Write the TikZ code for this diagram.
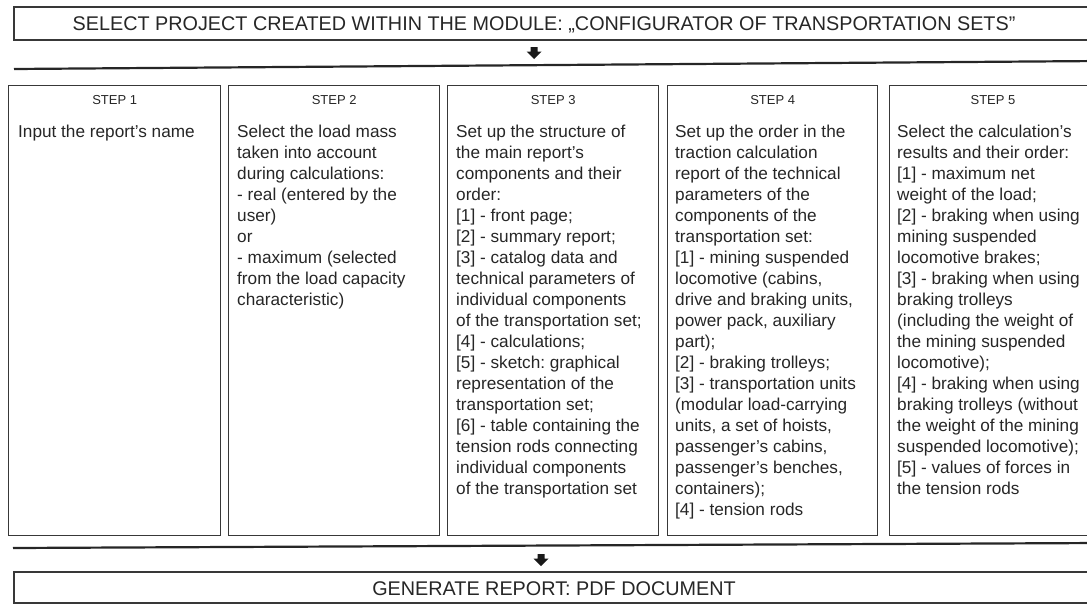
\documentclass[tikz,border=0pt]{standalone}
\usepackage{fontspec}
\setmainfont{Liberation Sans}
\frenchspacing
\begin{document}
\begin{tikzpicture}[x=1pt,y=-1pt,
  frame/.style={draw=black!78, line width=1.3pt},
  rule/.style={draw=black!85, line width=2.2pt},
  stepbox/.style={frame, anchor=north west, inner sep=0pt,
    minimum width=#1, minimum height=450pt},
  head/.style={font=\fontsize{13}{15}\selectfont, text=black!85,
    anchor=base, inner sep=0pt},
  body/.style={font=\fontsize{17.2}{21}\selectfont, text=black!85,
    align=left, anchor=north west, inner sep=0pt},
  title/.style={font=\fontsize{19.8}{22}\selectfont, text=black!85,
    text height=14.2pt, text depth=0pt, inner sep=0pt},
  downarrow/.style={fill=black!90}]
\useasboundingbox (0,0) rectangle (1087,605);
\clip (0,0) rectangle (1087,605);

% heading and closing frames
\draw[frame] (14,7) rectangle (1100,40);
\node[title] (select) at (544,23.5)
  {SELECT PROJECT CREATED WITHIN THE MODULE: „CONFIGURATOR OF TRANSPORTATION SETS”};
\draw[frame] (14,572) rectangle (1100,603);
\node[title] (generate) at (554,588) {GENERATE REPORT: PDF DOCUMENT};

% block arrows: short stem with a wide triangular head
\coordinate (arrTop) at (534,53);
\coordinate (arrBot) at (541,560);
\foreach \c in {arrTop,arrBot}
  \fill[downarrow] ([shift={(-3.5,-6)}]\c) -- ([shift={(3.5,-6)}]\c)
    -- ([shift={(3.5,-1.5)}]\c) -- ([shift={(7.5,-1.5)}]\c)
    -- ([shift={(0,6)}]\c) -- ([shift={(-7.5,-1.5)}]\c)
    -- ([shift={(-3.5,-1.5)}]\c) -- cycle;

% separating rules
\draw[rule] (14,69) -- (1100,61);
\draw[rule] (13,548) -- (1100,543);

% the five step boxes
\node[stepbox=212pt] (s1) at (8,85) {};
\node[stepbox=211pt] (s2) at (228,85) {};
\node[stepbox=211pt] (s3) at (447,85) {};
\node[stepbox=210pt] (s4) at (667,85) {};
\node[stepbox=210pt] (s5) at (889,85) {};

\node[head] (h1) at ([yshift=-19pt]s1.north) {STEP 1};
\node[head] (h2) at ([yshift=-19pt]s2.north) {STEP 2};
\node[head] (h3) at ([yshift=-19pt]s3.north) {STEP 3};
\node[head] (h4) at ([yshift=-19pt]s4.north) {STEP 4};
\node[head] (h5) at (993,104) {STEP 5};

\node[body] (t1) at (18,124.5) {Input the report’s name};
\node[body] (t2) at (237,124.5) {Select the load mass\\
taken into account\\
during calculations:\\
- real (entered by the\\
user)\\
or\\
- maximum (selected\\
from the load capacity\\
characteristic)};
\node[body] (t3) at (456,124.5) {Set up the structure of\\
the main report’s\\
components and their\\
order:\\
{[1]} - front page;\\
{[2]} - summary report;\\
{[3]} - catalog data and\\
technical parameters of\\
individual components\\
of the transportation set;\\
{[4]} - calculations;\\
{[5]} - sketch: graphical\\
representation of the\\
transportation set;\\
{[6]} - table containing the\\
tension rods connecting\\
individual components\\
of the transportation set};
\node[body] (t4) at (675,124.5) {Set up the order in the\\
traction calculation\\
report of the technical\\
parameters of the\\
components of the\\
transportation set:\\
{[1]} - mining suspended\\
locomotive (cabins,\\
drive and braking units,\\
power pack, auxiliary\\
part);\\
{[2]} - braking trolleys;\\
{[3]} - transportation units\\
(modular load-carrying\\
units, a set of hoists,\\
passenger’s cabins,\\
passenger’s benches,\\
containers);\\
{[4]} - tension rods};
\node[body] (t5) at (897,124.5) {Select the calculation’s\\
results and their order:\\
{[1]} - maximum net\\
weight of the load;\\
{[2]} - braking when using\\
mining suspended\\
locomotive brakes;\\
{[3]} - braking when using\\
braking trolleys\\
(including the weight of\\
the mining suspended\\
locomotive);\\
{[4]} - braking when using\\
braking trolleys (without\\
the weight of the mining\\
suspended locomotive);\\
{[5]} - values of forces in\\
the tension rods};
\end{tikzpicture}
\end{document}
